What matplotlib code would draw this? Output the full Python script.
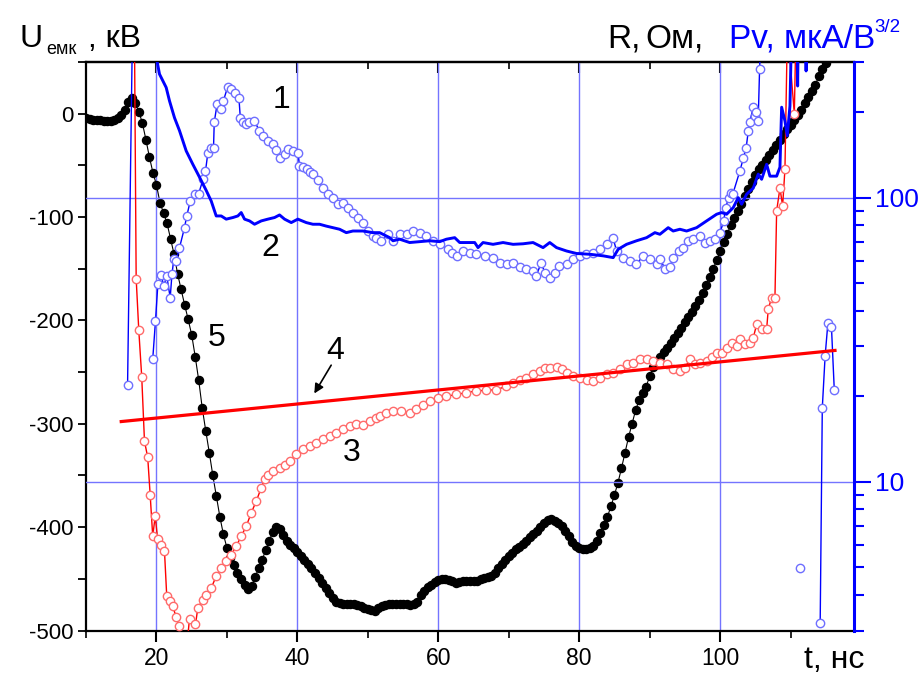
import numpy as np
import matplotlib
matplotlib.use("Agg")
import matplotlib.pyplot as plt
from matplotlib.ticker import MultipleLocator, FixedLocator, NullFormatter, FuncFormatter, LogLocator

plt.rcParams['font.family'] = ['Liberation Sans', 'DejaVu Sans']
plt.rcParams['axes.unicode_minus'] = False

# ---- curve 5: capacitor voltage U_emk, kV (left axis), sampled every 0.5 ns ----
t5 = np.arange(10.0, 115.51, 0.5)
u5 = [-4, -5, -6, -6, -6, -7, -7, -7, -6, -4,
      -1, 4, 11, 15, 10, 2, -9, -25, -42, -57,
      -69, -86, -96, -106, -121, -136, -155, -170, -185, -199,
      -214, -235, -258, -285, -307, -328, -350, -370, -390, -407,
      -420, -430, -437, -444, -450, -456, -460, -457, -448, -440,
      -432, -422, -413, -405, -400, -402, -408, -413, -417, -420,
      -424, -428, -432, -436, -440, -444, -449, -454, -459, -464,
      -469, -472, -473, -474, -474, -474, -474, -475, -476, -478,
      -479, -480, -481, -478, -476, -475, -474, -474, -474, -474,
      -474, -474, -475, -474, -472, -466, -462, -458, -456, -453,
      -451, -450, -450, -451, -452, -454, -453, -452, -452, -452,
      -452, -452, -450, -449, -448, -447, -444, -440, -436, -432,
      -428, -425, -421, -419, -416, -413, -410, -407, -404, -400,
      -396, -393, -392, -394, -396, -399, -404, -409, -414, -418,
      -420, -421, -421, -420, -418, -413, -406, -398, -390, -380,
      -369, -357, -343, -328, -313, -300, -287, -277, -270, -264,
      -254, -245, -239, -235, -231, -227, -222, -217, -212, -207,
      -202, -197, -192, -186, -180, -173, -166, -158, -150, -142,
      -133, -124, -116, -108, -101, -94, -87, -80, -73, -66,
      -59, -54, -50, -45, -40, -35, -30, -25, -20, -15,
      -11, -6, -1, 4, 10, 16, 22, 28, 36, 43,
      49, 56]

# ---- curve 1: Pv, uA/V^(3/2) (right axis) ----
t1 = [15.9, 16.6, 17.0,
      19.47, 19.86, 20.2, 20.67, 21.04, 21.46, 21.95, 22.2, 22.46, 22.8,
      23.27, 23.98, 24.3, 24.8, 25.4, 25.97, 26.6, 26.96, 27.3, 27.8,
      28.1, 28.2, 28.6, 29.2, 29.5, 30.1, 30.6, 31.1, 31.7, 31.9,
      32.3, 32.7, 33.2, 33.9, 34.6, 35.1, 35.8, 36.5, 37.0, 37.5,
      38.2, 38.7, 39.4, 40.1, 40.3, 40.8, 41.3, 41.8, 42.2, 42.9,
      43.6, 44.3, 45.0, 45.8, 46.5, 47.2, 47.9, 48.6, 49.3, 50.0,
      50.7, 51.2, 51.9, 52.9, 53.6, 54.5, 55.5, 56.4, 57.4, 58.3,
      59.2, 60.2, 61.4, 61.9, 62.6, 63.5, 64.5, 65.4, 66.6, 67.8,
      68.7, 69.7, 70.6, 71.6, 72.5, 73.5, 73.9, 74.6, 75.1, 75.8,
      76.5, 77.2, 78.2, 79.1, 80.1, 81.0, 82.0, 82.9, 83.9, 84.8,
      85.3, 86.2, 87.2, 88.1, 89.1, 90.0, 91.0, 91.5, 92.2, 92.9,
      93.3, 94.1, 94.8, 95.5, 96.2, 97.1, 97.8, 98.5, 99.3, 100.0,
      100.5, 100.8, 101.2, 101.5, 101.8, 102.8, 103.3, 103.7, 104.0, 104.2,
      104.7, 104.9, 105.1, 105.4, 105.6, 106.0, 106.2,
      111.3, 111.5,
      114.2, 114.5, 114.9, 115.3, 115.8, 116.2]
p1 = [22, 400, np.nan,
      27.0, 36.8, 49.6, 53.4, 48.9, 53.0, 44.5, 53.7, 60.7, 59.8,
      66.7, 78.4, 86.2, 97.3, 102.8, 102.8, 116, 124, 144, 150,
      150, 184, 213, 205, 219, 245, 241, 234, 225, 191,
      184, 181, 184, 186, 172, 165, 158, 154, 147, 138,
      142, 148, 146, 144, 129, 128, 126, 123, 121, 115,
      108, 103, 100, 94.8, 96, 92.2, 88.6, 85.1, 81.7, 76.3,
      73.3, 72.3, 70.5, 74.3, 70.5, 74.3, 74.3, 76.3, 75.3, 73.3,
      70.5, 68.5, 65.8, 64.1, 62.3, 65.0, 64.1, 63.3, 62.4, 61.5,
      59.1, 58.3, 59.1, 56.8, 56.0, 55.2, 52.9, 59.1, 54.5, 52.3,
      54.5, 57.5, 58.3, 60.7, 62.3, 63.2, 64.1, 65.8, 68.5, 72.3,
      64.9, 61.5, 59.8, 58.3, 62.4, 60.7, 58.3, 60.7, 56.0, 56.8,
      61.5, 64.9, 66.7, 70.5, 71.4, 73.3, 69.5, 70.5, 71.4, 75.3,
      82.8, 92.2, 100, 104, 103, 124, 138, 150, 172, 184,
      208, 194, 200, 186, 283, 500, np.nan,
      4.96, np.nan,
      3.18, 18.2, 27.7, 36.3, 35.1, 21.1]

# ---- curve 2: R, Ohm (right axis) ----
t2 = [20.0, 20.43, 21.38, 21.85, 22.56, 23.27, 24.22, 25.16, 26.11, 27.06,
      27.77, 28.24, 28.48, 29.19, 29.90, 30.84, 31.55, 32.03, 32.50, 33.21,
      33.92, 34.87, 35.81, 36.76, 37.47, 38.18, 39.13, 40.07, 41.26, 42.20,
      43.15, 44.10, 45.04, 45.99, 46.94, 47.88, 49.30, 50.72, 51.68, 53.10,
      53.57, 54.52, 55.94, 57.36, 58.78, 60.20, 61.15, 62.33, 63.04, 63.99,
      65.17, 65.64, 66.35, 67.77, 69.19, 70.61, 72.03, 73.45, 74.87, 75.82,
      76.78, 78.20, 79.62, 81.51, 83.40, 84.82, 85.53, 86.72, 88.14, 89.56,
      90.74, 91.45, 92.63, 93.34, 94.29, 95.24, 96.66, 98.08, 99.50, 100.21,
      100.92, 101.86, 102.57, 103.05, 103.76, 104.70, 105.41, 105.89, 106.60, 107.07,
      108.02, 108.49, 108.73, 109.20, 109.53, 109.91, 110.15, 110.9, 111.0, 111.1,
      112.1, 112.2, 112.3]
r2 = [310, 272, 244, 219, 191, 172, 146, 131, 118, 106,
      97.3, 89.8, 86.2, 86.2, 84.0, 85.1, 86.2, 88.6, 84.0, 82.8,
      80.6, 82.8, 84.0, 85.1, 86.9, 84.0, 81.7, 84.0, 81.7, 80.6,
      80.6, 79.4, 78.4, 77.4, 75.3, 76.3, 76.3, 75.3, 75.3, 72.3,
      70.5, 71.4, 69.5, 70.0, 70.5, 70.0, 71.4, 72.3, 69.5, 69.5,
      69.5, 66.7, 69.5, 68.5, 69.5, 68.5, 68.8, 69.5, 66.7, 69.5,
      66.7, 64.9, 63.6, 63.2, 62.4, 61.5, 65.8, 68.5, 70.5, 72.3,
      75.3, 74.3, 78.4, 76.3, 77.4, 76.3, 78.4, 82.8, 87.4, 88.6,
      87.4, 92.2, 100, 94.8, 102.8, 108, 121, 116, 131, 119,
      119, 128, 208, 186, 165, 210, 400, 400, 247, 400,
      400, 279, 400]

# ---- curve 3: R, Ohm (right axis) ----
t3 = [16.87, 17.12, 17.49, 17.91, 18.30, 18.76, 19.11, 19.47, 19.82, 20.18,
      20.67, 21.14, 21.46, 21.95, 22.32, 22.80, 23.17, 23.84, 24.69, 25.54,
      25.87, 26.58, 27.06, 27.77, 28.48, 29.19, 29.90, 30.61, 31.32, 32.03,
      32.74, 33.45, 34.16, 34.87, 35.34, 35.81, 36.52, 37.47, 38.18, 38.89,
      39.84, 40.78, 41.73, 42.68, 43.62, 44.57, 45.53, 46.46, 47.41, 48.37,
      49.30, 50.26, 51.21, 51.68, 52.63, 53.57, 54.76, 55.94, 56.89, 57.83,
      58.78, 59.96, 61.15, 62.57, 63.99, 65.41, 66.83, 68.25, 69.67, 70.61,
      71.56, 72.51, 73.45, 74.40, 75.11, 75.82, 76.78, 77.49, 78.20, 79.15,
      80.09, 81.04, 81.99, 82.93, 83.88, 84.82, 85.77, 86.72, 87.66, 88.61,
      89.56, 90.50, 91.45, 92.40, 93.34, 94.29, 95.00, 95.71, 96.42, 97.13,
      98.08, 98.79, 99.50, 100.21, 100.92, 101.63, 102.34, 102.81, 103.52, 104.23,
      104.70, 105.18, 105.89, 106.60, 106.83, 107.31, 107.78, 108.02, 108.49, 108.87,
      109.20, 109.55, 110.53, 110.77]
r3 = [400, 51.9, 34.2, 23.4, 13.9, 12.2, 8.98, 6.44, 7.57, 6.27,
      6.02, 5.70, 3.96, 3.80, 3.65, 3.34, 3.11, 2.0, 3.30, 3.15,
      3.60, 3.85, 4.01, 4.23, 4.66, 4.98, 5.26, 5.55, 5.94, 6.44,
      6.98, 7.78, 8.55, 9.53, 10.2, 10.6, 10.9, 11.2, 11.5, 11.8,
      12.5, 13.0, 13.4, 13.7, 14.1, 14.5, 14.9, 15.3, 15.7, 16.0,
      15.9, 16.4, 16.8, 17.0, 17.5, 17.7, 17.7, 17.5, 18.0, 18.7,
      19.2, 19.8, 20.0, 20.3, 20.6, 20.9, 21.0, 21.1, 21.7, 22.3,
      22.9, 23.2, 23.9, 24.5, 25.2, 25.2, 25.3, 24.9, 24.2, 23.6,
      23.2, 22.9, 22.6, 23.2, 23.9, 24.2, 24.9, 25.9, 26.2, 27.0,
      27.0, 26.6, 26.2, 25.9, 24.9, 24.5, 25.2, 27.0, 25.9, 26.2,
      26.6, 27.4, 28.5, 28.5, 29.6, 30.9, 30.1, 31.7, 30.5, 30.9,
      32.1, 35.8, 34.4, 34.4, 40.5, 44.5, 44.5, 89.8, 108, 93.5,
      126, 400, 197, 400]

# ---- line 4: fitted R trend (right axis) ----
t4 = [15.0, 116.3]
r4 = [16.3, 29.0]

# curve labels: (text, t, U)
labels = [("1", 37.8, 13), ("2", 36.1, -130), ("3", 47.7, -328),
          ("4", 45.3, -230), ("5", 28.5, -217)]

W, H = 921, 677
fig = plt.figure(figsize=(W / 100, H / 100), dpi=100)
ax = fig.add_axes([86 / W, 1 - 630.5 / H, (854 - 86) / W, (630.5 - 62) / H])
ax2 = ax.twinx()

GRID = '#7474ff'
BLUE = '#0000ff'

# left axis: voltage
ax.set_xlim(10, 119)
ax.set_ylim(-500, 50)
ax.xaxis.set_major_locator(FixedLocator([20, 40, 60, 80, 100]))
ax.xaxis.set_minor_locator(FixedLocator([10, 30, 50, 70, 90, 110]))
ax.yaxis.set_major_locator(MultipleLocator(100))
ax.yaxis.set_minor_locator(MultipleLocator(50))
ax.tick_params(axis='x', which='major', direction='out', length=8, width=1.5,
               labelsize=16.5, pad=4, bottom=True, top=False)
ax.tick_params(axis='x', which='minor', direction='out', length=5, width=1.2,
               bottom=True, top=False)
ax.tick_params(axis='y', which='both', direction='out', length=6, width=1.3,
               labelsize=16, pad=3)
ax.xaxis.grid(True, which='major', color=GRID, lw=1.0)
for s in ('left', 'bottom', 'top'):
    ax.spines[s].set_linewidth(1.6)
ax.spines['right'].set_visible(False)

top = ax.secondary_xaxis('top')
top.xaxis.set_major_locator(FixedLocator([20, 40, 60, 80, 100]))
top.xaxis.set_minor_locator(FixedLocator([10, 30, 50, 70, 90, 110]))
top.tick_params(axis='x', which='major', direction='in', length=8, width=1.5, labeltop=False)
top.tick_params(axis='x', which='minor', direction='in', length=5, width=1.2)
top.spines['top'].set_linewidth(1.6)

ax.plot(t5, u5, color='black', lw=0.8, marker='o', ms=5.8, mfc='black', mec='black', zorder=3)

# right axis: log scale
ax2.set_yscale('log')
ax2.set_ylim(3, 300)
ax2.yaxis.set_major_locator(FixedLocator([10, 100]))
ax2.yaxis.set_major_formatter(FuncFormatter(lambda v, p: f"{v:g}"))
ax2.yaxis.set_minor_locator(LogLocator(base=10, subs=np.arange(2, 10)))
ax2.yaxis.set_minor_formatter(NullFormatter())
ax2.tick_params(axis='y', which='major', direction='out', length=12, width=1.5,
                colors=BLUE, labelsize=19, pad=3)
ax2.tick_params(axis='y', which='minor', direction='out', length=7, width=1.5, colors=BLUE)
ax2.yaxis.grid(True, which='major', color=GRID, lw=1.0, zorder=0)
ax2.spines['right'].set_color(BLUE)
ax2.spines['right'].set_linewidth(2.2)
for s in ('left', 'bottom', 'top'):
    ax2.spines[s].set_visible(False)

ax2.plot(t3, r3, color='#ff0000', lw=1.0, marker='o', ms=6, mfc='white',
         mec='#ff6a6a', mew=1.0, zorder=3)
ax2.plot(t1, p1, color=BLUE, lw=1.0, marker='o', ms=6, mfc='white',
         mec='#6e6eff', mew=1.0, zorder=3)
ax2.plot(t2, r2, color=BLUE, lw=2.1, zorder=4)
ax2.plot(t4, r4, color='#ff0000', lw=2.3, zorder=4)

# curve numbers and arrow (placed in the voltage coordinates)
for txt, tx, uy in labels:
    ax.text(tx, uy, txt, fontsize=23, ha='center', va='center', zorder=10)
ax.annotate("", xy=(42.2, -273), xytext=(45.0, -241),
            arrowprops=dict(arrowstyle='-|>', color='black', lw=1.2,
                            mutation_scale=14), zorder=10)
ax2.set_zorder(ax.get_zorder() + 1)
ax2.patch.set_visible(False)


def fp(x, y):
    return x / W, 1 - y / H


fig.text(*fp(19, 47), "U", fontsize=23, ha='left', va='baseline')
fig.text(*fp(46, 54), "емк", fontsize=13, ha='left', va='baseline')
fig.text(*fp(79, 47), " , кВ", fontsize=23, ha='left', va='baseline')
fig.text(*fp(607, 47), "R,", fontsize=24, ha='left', va='baseline')
fig.text(*fp(645, 47), "Ом,", fontsize=24, ha='left', va='baseline')
fig.text(*fp(729, 47), "Pv, мкА/В", fontsize=24, ha='left', va='baseline', color=BLUE)
fig.text(*fp(874, 32), "3/2", fontsize=13.5, ha='left', va='baseline', color=BLUE)
fig.text(*fp(804, 668), "t, нс", fontsize=23, ha='left', va='baseline')

fig.savefig("out.png", dpi=100)
